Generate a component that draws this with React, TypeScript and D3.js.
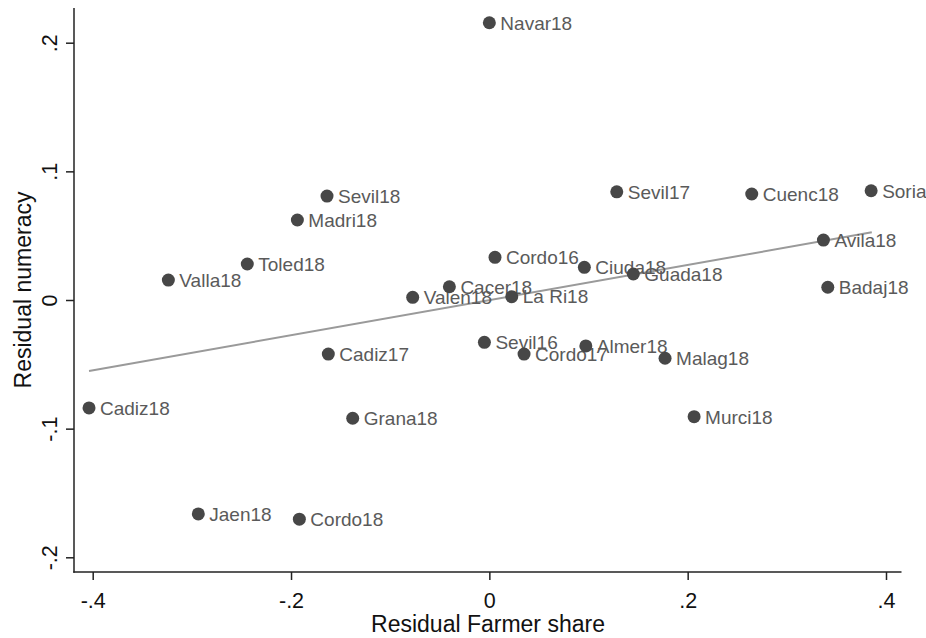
import { axisBottom, axisLeft, line, scaleLinear, select } from "d3";
import { useEffect, useRef } from "react";

const names = [
    "Navar18", "Sevil18", "Madri18", "Toled18", "Valla18", "Cadiz17", "Cadiz18",
    "Grana18", "Jaen18", "Cordo18", "Valen18", "Cacer18", "Cordo16", "La Ri18",
    "Sevil16", "Cordo17", "Sevil17", "Ciuda18", "Guada18", "Almer18", "Malag18",
    "Murci18", "Cuenc18", "Avila18", "Badaj18", "Soria",
];
const farmerShare = [
    0.0, -0.1637, -0.1936, -0.2441, -0.3237, -0.1624, -0.4037,
    -0.1378, -0.2935, -0.1916, -0.0773, -0.0403, 0.0057, 0.0226,
    -0.005, 0.035, 0.1285, 0.0958, 0.1452, 0.0973, 0.1772,
    0.2065, 0.2646, 0.3369, 0.3413, 0.385,
];
const numeracy = [
    0.2155, 0.0808, 0.0622, 0.028, 0.0155, -0.042, -0.0839,
    -0.0919, -0.1663, -0.1704, 0.0021, 0.0103, 0.0332, 0.0026,
    -0.0329, -0.042, 0.0841, 0.0254, 0.0202, -0.0357, -0.0453,
    -0.0907, 0.0824, 0.0466, 0.0099, 0.0849,
];
// fitted line end points
const fitX = [-0.4037, 0.3857];
const fitY = [-0.0552, 0.0526];

const xTicks = [-0.4, -0.2, 0, 0.2, 0.4];
const yTicks = [-0.2, -0.1, 0, 0.1, 0.2];

const FONT = "'Liberation Sans', Arial, sans-serif";

const fmt = (d: number) =>
    d === 0 ? "0" : d.toFixed(1).replace("0.", ".");

function App() {
    const xRef = useRef<SVGGElement>(null);
    const yRef = useRef<SVGGElement>(null);

    const x = scaleLinear().domain([-0.4, 0.4]).range([92.7, 886]);
    const y = scaleLinear().domain([-0.2, 0.2]).range([557.3, 42.7]);

    const left = 74;
    const bottom = 572;

    useEffect(() => {
        const gx: any = select(xRef.current);
        gx.call(
            axisBottom(x)
                .tickValues(xTicks)
                .tickFormat(fmt as any)
                .tickSizeOuter(0)
                .tickSize(8)
        );
        gx.select(".domain").remove();
        gx.selectAll(".tick line").attr("stroke", "#222").attr("stroke-width", 1.5);
        gx.selectAll(".tick text")
            .attr("y", 36)
            .attr("dy", null)
            .attr("fill", "#111")
            .style("font-size", "21.5px")
            .style("font-family", FONT);

        const gy: any = select(yRef.current);
        gy.call(
            axisLeft(y)
                .tickValues(yTicks)
                .tickFormat(fmt as any)
                .tickSizeOuter(0)
                .tickSize(8)
        );
        gy.select(".domain").remove();
        gy.selectAll(".tick line").attr("stroke", "#222").attr("stroke-width", 1.5);
        gy.selectAll(".tick text")
            .attr("x", null)
            .attr("dy", null)
            .attr("text-anchor", "middle")
            .attr("transform", "translate(-17,0) rotate(-90)")
            .attr("fill", "#111")
            .style("font-size", "21.5px")
            .style("font-family", FONT);
    }, []);

    const fitPath = line<number>()
        .x((d) => x(d))
        .y((_, i) => y(fitY[i]))(fitX);

    return (
        <svg
            width={926}
            height={638}
            style={{ position: "absolute", left: 0, top: 0, background: "#fff" }}
        >
            <rect width={926} height={638} fill="#fff" />
            <path d={fitPath || ""} fill="none" stroke="#9a9a9a" strokeWidth={2} />
            {names.map((n, i) => (
                <g key={n}>
                    <circle cx={x(farmerShare[i])} cy={y(numeracy[i])} r={6.5} fill="#474747" />
                    <text
                        x={x(farmerShare[i]) + 11}
                        y={y(numeracy[i])}
                        dy="0.36em"
                        fill="#5a5a5a"
                        fontSize={19}
                        fontFamily={FONT}
                    >
                        {n}
                    </text>
                </g>
            ))}
            <line x1={left} x2={left} y1={8} y2={bottom + 0.75} stroke="#222" strokeWidth={1.5} />
            <line x1={left - 0.75} x2={901.5} y1={bottom} y2={bottom} stroke="#222" strokeWidth={1.5} />
            <g ref={xRef} transform={`translate(0,${bottom})`} />
            <g ref={yRef} transform={`translate(${left},0)`} />
            <text
                x={488}
                y={632}
                textAnchor="middle"
                fontSize={23}
                fontFamily={FONT}
                fill="#111"
            >
                Residual Farmer share
            </text>
            <text
                transform="translate(31,290) rotate(-90)"
                textAnchor="middle"
                fontSize={23}
                fontFamily={FONT}
                fill="#111"
            >
                Residual numeracy
            </text>
        </svg>
    );
}

export default App;
